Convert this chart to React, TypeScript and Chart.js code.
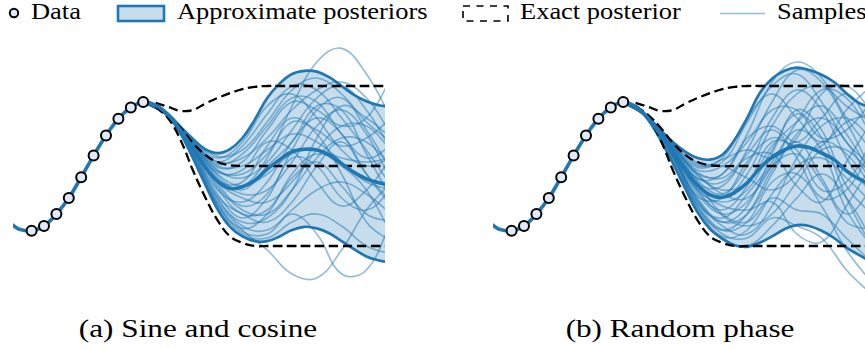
import React, { useEffect, useRef } from 'react';
import { Chart, registerables } from 'chart.js';

Chart.register(...registerables);

// ---------- data ----------
const DATA_XS = [1, 2, 3, 4, 5, 6, 7, 8, 9, 10];
const DATA_YS = [-0.81, -0.75, -0.6, -0.4, -0.14, 0.13, 0.38, 0.59, 0.73, 0.8];

const LEFT_XS = [-0.5, 0, 1, 2, 3, 4, 5, 6, 7, 8, 9];
const LEFT_MEAN = [-0.74, -0.79, -0.81, -0.75, -0.6, -0.4, -0.14, 0.13, 0.38, 0.59, 0.73];

const BAND_XS = [10, 11, 12, 13, 14, 15, 16, 17, 18, 19, 20, 21, 22, 23, 24, 25, 26, 27, 28, 29, 30];

const EXACT_XS = [11, 12, 13, 14, 15, 16, 17, 18, 19, 20, 21, 22, 23, 24, 25, 26, 27, 28, 29, 30];
const EXACT_UPPER = [0.79, 0.74, 0.69, 0.7, 0.78, 0.85, 0.91, 0.96, 0.99, 1.0, 1.0, 1.0, 1.0, 1.0, 1.0, 1.0, 1.0, 1.0, 1.0, 1.0];
const EXACT_MEAN = [0.75, 0.64, 0.48, 0.29, 0.14, 0.05, 0.01, 0, 0, 0, 0, 0, 0, 0, 0, 0, 0, 0, 0, 0];
const EXACT_LOWER = [0.74, 0.6, 0.33, -0.05, -0.39, -0.68, -0.88, -0.96, -1.0, -1.0, -1.0, -1.0, -1.0, -1.0, -1.0, -1.0, -1.0, -1.0, -1.0, -1.0];

// panel (a) Sine and cosine
const A_UPPER = [0.8, 0.76, 0.65, 0.49, 0.34, 0.21, 0.16, 0.21, 0.35, 0.58, 0.85, 1.03, 1.15, 1.19, 1.18, 1.11, 1.0, 0.89, 0.81, 0.76, 0.74];
const A_LOWER = [0.8, 0.75, 0.63, 0.41, 0.1, -0.23, -0.54, -0.76, -0.88, -0.94, -0.94, -0.88, -0.8, -0.76, -0.78, -0.84, -0.94, -1.04, -1.13, -1.18, -1.21];
const A_MEAN = [0.8, 0.76, 0.64, 0.45, 0.22, -0.01, -0.19, -0.28, -0.26, -0.18, -0.04, 0.08, 0.18, 0.21, 0.2, 0.14, 0.03, -0.08, -0.16, -0.21, -0.24];

// panel (b) Random phase
const B_UPPER = [0.8, 0.75, 0.61, 0.45, 0.3, 0.18, 0.1, 0.08, 0.14, 0.33, 0.6, 0.91, 1.09, 1.19, 1.23, 1.2, 1.14, 1.05, 0.91, 0.79, 0.73];
const B_LOWER = [0.8, 0.74, 0.58, 0.33, 0.04, -0.28, -0.58, -0.79, -0.91, -0.99, -1.01, -0.96, -0.88, -0.79, -0.74, -0.75, -0.81, -0.9, -1.02, -1.11, -1.2];
const B_MEAN = [0.8, 0.74, 0.6, 0.39, 0.17, -0.05, -0.24, -0.36, -0.39, -0.33, -0.21, -0.03, 0.11, 0.2, 0.25, 0.23, 0.16, 0.08, -0.06, -0.16, -0.24];

const SAMPLE_XS = [10, 12, 14, 16, 18, 20, 22, 24, 26, 28, 30];

const A_SAMPLES = [
  [0.8, 0.65, 0.33, 0.12, 0.2, 0.55, 0.95, 1.1, 0.9, 0.55, 0.3],
  [0.8, 0.64, 0.3, 0.05, 0.1, 0.35, 0.7, 0.95, 1.05, 0.85, 0.4],
  [0.8, 0.64, 0.28, -0.05, -0.15, 0.05, 0.45, 0.85, 1.0, 0.7, 0.2],
  [0.8, 0.63, 0.25, -0.15, -0.35, -0.3, 0.05, 0.5, 0.7, 0.4, -0.2],
  [0.8, 0.63, 0.22, -0.25, -0.55, -0.6, -0.3, 0.1, 0.35, 0.3, 0.0],
  [0.8, 0.63, 0.18, -0.4, -0.75, -0.8, -0.55, -0.3, -0.2, -0.35, -0.6],
  [0.8, 0.62, 0.12, -0.5, -0.85, -0.9, -0.7, -0.6, -0.75, -1.0, -1.1],
  [0.8, 0.63, 0.2, -0.3, -0.45, -0.2, 0.3, 0.6, 0.4, -0.1, -0.5],
  [0.8, 0.64, 0.3, 0.0, 0.0, 0.2, 0.4, 0.3, 0.05, -0.2, -0.3],
  [0.8, 0.64, 0.27, -0.1, -0.25, -0.1, 0.15, 0.2, 0.1, 0.05, 0.1],
  [0.8, 0.63, 0.24, -0.2, -0.4, -0.45, -0.2, 0.2, 0.5, 0.5, 0.2],
  [0.8, 0.63, 0.22, -0.2, -0.25, 0.1, 0.75, 1.3, 1.47, 1.15, 0.6],
  [0.8, 0.62, 0.14, -0.45, -0.8, -1.05, -1.35, -1.4, -1.05, -0.55, -0.2],
  [0.8, 0.62, 0.15, -0.48, -0.82, -0.85, -0.6, -0.85, -1.35, -1.3, -0.7],
  [0.8, 0.64, 0.32, 0.1, 0.3, 0.75, 0.9, 0.6, 0.2, 0.0, 0.1],
  [0.8, 0.64, 0.29, -0.02, 0.05, 0.45, 0.8, 0.7, 0.5, 0.6, 1.1],
  [0.8, 0.63, 0.21, -0.28, -0.6, -0.55, -0.15, 0.05, -0.25, -0.6, -0.7],
  [0.8, 0.63, 0.19, -0.35, -0.65, -0.4, 0.1, 0.0, -0.4, -0.55, -0.3],
  [0.8, 0.64, 0.26, -0.08, -0.05, 0.3, 0.2, -0.2, -0.5, -0.3, 0.1],
  [0.8, 0.63, 0.23, -0.18, -0.2, 0.25, 0.6, 0.4, -0.1, -0.7, -0.95],
  [0.8, 0.62, 0.16, -0.42, -0.7, -0.65, -0.3, 0.35, 0.75, 0.6, 0.35],
  [0.8, 0.64, 0.31, 0.05, 0.25, 0.65, 1.0, 0.95, 0.6, 0.2, -0.25],
  [0.8, 0.64, 0.3, 0.02, 0.15, 0.5, 0.85, 0.8, 0.4, 0.1, 0.25],
  [0.8, 0.63, 0.22, -0.22, -0.5, -0.35, 0.2, 0.7, 0.85, 0.45, -0.05],
  [0.8, 0.63, 0.17, -0.38, -0.6, -0.7, -0.45, 0.0, 0.3, -0.1, -0.45],
  [0.8, 0.64, 0.28, -0.06, -0.1, 0.15, 0.55, 0.45, 0.25, 0.35, 0.6],
  [0.8, 0.62, 0.13, -0.47, -0.78, -0.6, -0.1, 0.15, 0.0, -0.3, -0.85],
  [0.8, 0.64, 0.26, -0.12, -0.3, 0.0, 0.3, 0.75, 0.7, 0.15, -0.4],
];

const B_SAMPLES = [
  [0.8, 0.62, 0.25, -0.1, -0.1, 0.4, 1.05, 1.3, 1.1, 0.6, 0.2],
  [0.8, 0.61, 0.28, 0.02, 0.05, 0.55, 1.0, 1.15, 0.8, 0.3, 0.0],
  [0.8, 0.6, 0.2, -0.25, -0.4, -0.1, 0.5, 0.9, 1.0, 0.75, 0.55],
  [0.8, 0.6, 0.15, -0.4, -0.7, -0.6, -0.1, 0.4, 0.6, 0.3, -0.2],
  [0.8, 0.59, 0.1, -0.5, -0.85, -0.9, -0.65, -0.75, -0.9, -1.3, -1.6],
  [0.8, 0.59, 0.08, -0.55, -0.92, -1.0, -0.75, -0.4, -0.1, -0.4, -0.9],
  [0.8, 0.6, 0.18, -0.3, -0.45, -0.3, 0.2, 0.65, 0.35, -0.4, -1.0],
  [0.8, 0.61, 0.22, -0.15, -0.2, 0.15, 0.45, 0.1, -0.4, -0.3, 0.2],
  [0.8, 0.6, 0.16, -0.35, -0.6, -0.45, 0.0, 0.15, -0.2, -0.7, -0.8],
  [0.8, 0.61, 0.26, -0.05, 0.0, 0.3, 0.7, 0.7, 0.35, 0.45, 0.8],
  [0.8, 0.6, 0.14, -0.42, -0.75, -0.85, -0.5, 0.1, 0.5, 0.6, 0.35],
  [0.8, 0.61, 0.24, -0.12, -0.3, -0.2, 0.25, 0.55, 0.75, 0.4, -0.1],
  [0.8, 0.6, 0.19, -0.28, -0.5, -0.55, -0.45, -0.85, -0.95, -0.5, 0.0],
  [0.8, 0.61, 0.27, 0.0, 0.08, 0.2, 0.1, 0.35, 0.9, 1.0, 0.7],
  [0.8, 0.6, 0.12, -0.45, -0.8, -0.7, -0.2, -0.1, -0.5, -1.05, -1.45],
  [0.8, 0.61, 0.23, -0.18, -0.35, 0.0, 0.6, 0.95, 0.7, 0.1, -0.35],
  [0.8, 0.6, 0.17, -0.32, -0.55, -0.25, 0.3, 0.2, -0.3, -0.2, 0.3],
  [0.8, 0.61, 0.25, -0.08, -0.15, 0.1, 0.15, -0.25, -0.45, 0.05, 0.55],
  [0.8, 0.6, 0.13, -0.47, -0.65, -0.35, 0.05, 0.55, 0.95, 0.85, 0.4],
  [0.8, 0.61, 0.21, -0.22, -0.25, 0.2, 0.8, 1.2, 1.05, 0.55, -0.05],
  [0.8, 0.6, 0.11, -0.52, -0.88, -0.8, -0.35, 0.0, 0.1, -0.15, -0.45],
  [0.8, 0.61, 0.29, 0.04, 0.0, -0.15, -0.3, -0.1, 0.3, 0.15, -0.25],
  [0.8, 0.6, 0.15, -0.38, -0.4, 0.05, 0.35, 0.25, 0.25, 0.7, 1.0],
  [0.8, 0.61, 0.2, -0.2, -0.6, -0.7, -0.4, -0.55, -0.6, -0.9, -1.2],
  [0.8, 0.61, 0.26, -0.02, 0.1, 0.6, 0.9, 0.6, 0.3, 0.55, 0.65],
  [0.8, 0.6, 0.14, -0.44, -0.7, -0.5, 0.15, 0.7, 0.45, -0.25, -0.6],
  [0.8, 0.61, 0.22, -0.16, -0.1, 0.35, 0.5, 0.3, 0.6, 0.9, 0.5],
  [0.8, 0.6, 0.18, -0.3, -0.62, -0.75, -0.6, -0.2, 0.2, 0.2, -0.1],
  [0.8, 0.61, 0.24, -0.1, -0.35, -0.4, 0.0, 0.45, 0.2, -0.55, -1.0],
  [0.8, 0.6, 0.12, -0.5, -0.8, -0.6, -0.05, 0.3, -0.15, -0.6, -0.3],
];

const LEGEND_LABELS = ['Data', 'Approximate posteriors', 'Exact posterior', 'Samples'];
const CAPTIONS = ['(a) Sine and cosine', '(b) Random phase'];

// ---------- styles ----------
const BLUE = '#1f77b4';
const FILL = 'rgba(31,119,180,0.25)';
const SAMPLE_COLOR = 'rgba(31,119,180,0.5)';
const POINT_FILL = '#deebf7';
const SERIF = '"Liberation Serif", "Times New Roman", serif';

const X_MIN = -0.5;
const X_MAX = 29.5;
const Y_MIN = -1.6;
const Y_MAX = 1.6;
const CW = 372;
const CH = 256;

type PanelProps = {
  left: number;
  upper: number[];
  lower: number[];
  mean: number[];
  samples: number[][];
};

const pts = (xs: number[], ys: number[]) => xs.map((x, i) => ({ x, y: ys[i] }));

function Panel({ left, upper, lower, mean, samples }: PanelProps) {
  const ref = useRef<HTMLCanvasElement>(null);
  useEffect(() => {
    if (!ref.current) return;
    const line = (data: any, extra: any) => ({
      data,
      pointRadius: 0,
      tension: 0.4,
      fill: false,
      borderCapStyle: 'round',
      borderJoinStyle: 'round',
      ...extra,
    });
    const dashed = { borderColor: '#000', borderWidth: 2.3, borderDash: [9.5, 4.5], borderCapStyle: 'butt', order: 2 };
    const datasets: any[] = [
      {
        data: pts(DATA_XS, DATA_YS),
        showLine: false,
        pointRadius: 5,
        pointBorderWidth: 2,
        pointBackgroundColor: POINT_FILL,
        pointBorderColor: '#000',
        order: 0,
      },
      line(pts([...LEFT_XS, ...BAND_XS], [...LEFT_MEAN, ...mean]), { borderColor: BLUE, borderWidth: 3.6, order: 1 }),
      line(pts(EXACT_XS, EXACT_UPPER), dashed),
      line(pts(EXACT_XS, EXACT_MEAN), dashed),
      line(pts(EXACT_XS, EXACT_LOWER), dashed),
      line(pts(BAND_XS, upper), { borderColor: BLUE, borderWidth: 2.7, fill: '+1', backgroundColor: FILL, order: 3 }),
      line(pts(BAND_XS, lower), { borderColor: BLUE, borderWidth: 2.7, order: 3 }),
      ...samples.map((s) => line(pts(SAMPLE_XS, s), { borderColor: SAMPLE_COLOR, borderWidth: 1.6, order: 4 })),
    ];
    const chart = new Chart(ref.current, {
      type: 'line',
      data: { datasets },
      options: {
        animation: false,
        responsive: false,
        maintainAspectRatio: false,
        events: [],
        layout: { padding: 0, autoPadding: false },
        scales: {
          x: { type: 'linear', min: X_MIN, max: X_MAX, display: false },
          y: { type: 'linear', min: Y_MIN, max: Y_MAX, display: false },
        },
        plugins: {
          legend: { display: false },
          tooltip: { enabled: false },
          filler: { drawTime: 'beforeDatasetsDraw' },
        },
      } as any,
    });
    return () => chart.destroy();
  }, []);
  return (
    <canvas
      ref={ref}
      width={CW}
      height={CH}
      style={{ position: 'absolute', left, top: 38, width: CW, height: CH }}
    />
  );
}

const legendText = (left: number): React.CSSProperties => ({
  position: 'absolute',
  left,
  top: 0,
  fontFamily: SERIF,
  fontSize: 23,
  lineHeight: 1,
  whiteSpace: 'nowrap',
  color: '#000',
  transform: 'scaleX(1.15)',
  transformOrigin: 'left center',
});

const captionText = (center: number): React.CSSProperties => ({
  position: 'absolute',
  left: center,
  top: 316,
  fontFamily: SERIF,
  fontSize: 26,
  lineHeight: 1,
  whiteSpace: 'nowrap',
  color: '#000',
  transform: 'translateX(-50%) scaleX(1.2)',
});

export default function App() {
  return (
    <div style={{ position: 'fixed', left: 0, top: 0, width: 865, height: 349, overflow: 'hidden', background: '#fff' }}>
      <svg width={865} height={30} style={{ position: 'absolute', left: 0, top: 0 }}>
        <circle cx={14} cy={13} r={4.2} fill={POINT_FILL} stroke="#000" strokeWidth={2} />
        <rect x={118} y={6} width={46} height={15} fill={FILL} stroke={BLUE} strokeWidth={2.6} />
        <rect x={463} y={6} width={45} height={15} fill="none" stroke="#000" strokeWidth={1.6} strokeDasharray="7,6.5" />
        <line x1={720} y1={13.5} x2={765} y2={13.5} stroke={SAMPLE_COLOR} strokeWidth={1.6} />
      </svg>
      <div style={legendText(31)}>{LEGEND_LABELS[0]}</div>
      <div style={legendText(177)}>{LEGEND_LABELS[1]}</div>
      <div style={legendText(520)}>{LEGEND_LABELS[2]}</div>
      <div style={legendText(777)}>{LEGEND_LABELS[3]}</div>
      <Panel left={13} upper={A_UPPER} lower={A_LOWER} mean={A_MEAN} samples={A_SAMPLES} />
      <Panel left={493} upper={B_UPPER} lower={B_LOWER} mean={B_MEAN} samples={B_SAMPLES} />
      <div style={captionText(198)}>{CAPTIONS[0]}</div>
      <div style={captionText(680)}>{CAPTIONS[1]}</div>
    </div>
  );
}
